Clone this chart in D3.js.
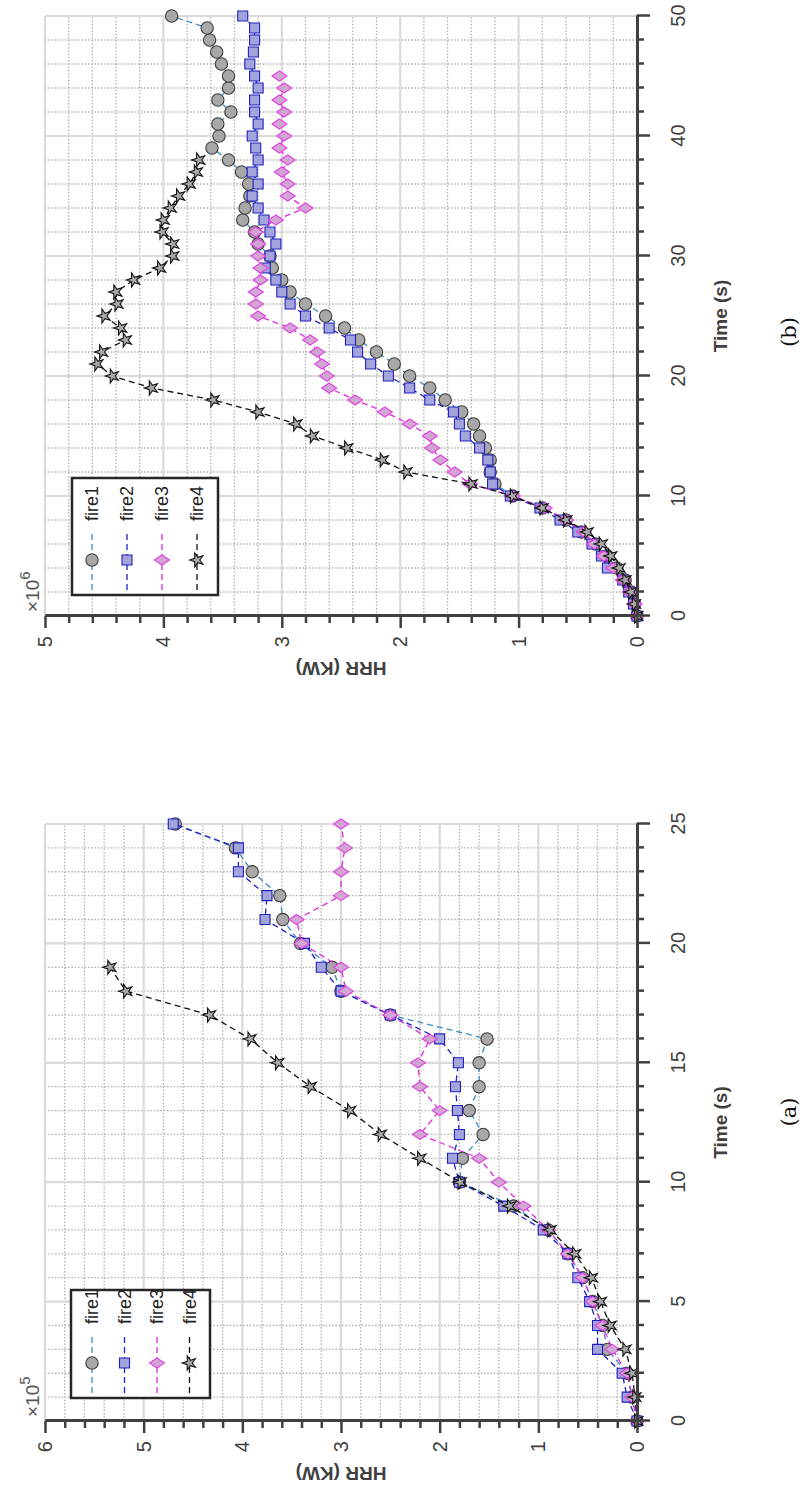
<!DOCTYPE html>
<html><head><meta charset="utf-8">
<script src="https://cdn.jsdelivr.net/npm/d3@7"></script>
<style>body{margin:0;background:#fff} svg{display:block}</style>
</head><body>
<svg id="chart" width="806" height="1486"></svg>
<script>
// ---------- data: panel (b) ----------
const timeB = [0,1,2,3,4,5,6,7,8,9,10,11,12,13,14,15,16,17,18,19,20,21,22,23,24,25,26,27,28,29,30,31,32,33,34,35,36,37,38,39,40,41,42,43,44,45,46,47,48,49,50];
const fire1B = [0,0.02,0.05,0.1,0.17,0.25,0.35,0.47,0.6,0.8,1.05,1.2,1.24,1.24,1.28,1.33,1.38,1.48,1.62,1.75,1.92,2.05,2.2,2.35,2.47,2.63,2.8,2.93,3.0,3.08,3.1,3.2,3.23,3.33,3.31,3.27,3.28,3.34,3.45,3.59,3.53,3.54,3.43,3.54,3.45,3.45,3.51,3.55,3.61,3.63,3.93];
const fire2B = [0,0.03,0.07,0.12,0.25,0.3,0.38,0.5,0.65,0.82,1.07,1.22,1.24,1.26,1.33,1.45,1.5,1.55,1.75,1.92,2.1,2.25,2.36,2.42,2.6,2.8,2.93,3.0,3.05,3.14,3.1,3.05,3.1,3.15,3.2,3.25,3.2,3.25,3.2,3.22,3.25,3.2,3.23,3.23,3.2,3.23,3.27,3.24,3.23,3.23,3.33];
const fire3B = [0,0.02,0.06,0.12,0.2,0.28,0.36,0.45,0.6,0.78,1.05,1.41,1.54,1.66,1.73,1.75,1.92,2.13,2.38,2.6,2.62,2.66,2.7,2.76,2.93,3.2,3.22,3.22,3.18,3.18,3.2,3.2,3.22,3.05,2.8,2.95,2.95,3.0,2.95,3.02,2.98,3.02,2.98,3.02,2.98,3.02];
const fire4B = [0,0.02,0.05,0.1,0.15,0.22,0.3,0.42,0.6,0.8,1.05,1.4,1.95,2.15,2.45,2.74,2.88,3.2,3.58,4.1,4.43,4.56,4.52,4.32,4.36,4.5,4.39,4.4,4.25,4.03,3.92,3.92,4.01,4.0,3.94,3.87,3.78,3.72,3.7];
const timeTicksB = [0,10,20,30,40,50];
const hrrTicksB = [0,1,2,3,4,5];

// ---------- data: panel (a) ----------
const timeA = [0,1,2,3,4,5,6,7,8,9,10,11,12,13,14,15,16,17,18,19,20,21,22,23,24,25];
const fire1A = [0,0.05,0.1,0.3,0.35,0.45,0.55,0.7,0.9,1.25,1.8,1.77,1.56,1.7,1.6,1.6,1.52,2.5,3.0,3.09,3.41,3.59,3.62,3.9,4.07,4.68];
const fire2A = [0,0.1,0.15,0.4,0.4,0.48,0.6,0.7,0.95,1.35,1.8,1.87,1.8,1.82,1.84,1.81,2.0,2.5,3.0,3.2,3.37,3.77,3.75,4.04,4.04,4.7];
const fire3A = [0,0.05,0.1,0.25,0.35,0.45,0.55,0.7,0.9,1.15,1.4,1.6,2.2,2.0,2.2,2.22,2.1,2.5,2.95,3.0,3.4,3.45,3.0,3.0,2.96,3.0];
const fire4A = [0,0.02,0.05,0.12,0.27,0.37,0.46,0.63,0.88,1.29,1.79,2.2,2.6,2.91,3.31,3.64,3.92,4.33,5.18,5.34];
const timeTicksA = [0,5,10,15,20,25];
const hrrTicksA = [0,1,2,3,4,5,6];

const seriesNames = ["fire1","fire2","fire3","fire4"];
const seriesStyle = [
  {line:"#3a8cc4", fill:"#a8a8a8", stroke:"#3c3c3c", shape:"circle"},
  {line:"#1f1fc8", fill:"#a4a4dc", stroke:"#2020c0", shape:"square"},
  {line:"#e028e0", fill:"#d2a6d2", stroke:"#e040e0", shape:"diamond"},
  {line:"#111111", fill:"#a8a8a8", stroke:"#111111", shape:"star"}
];

const svg = d3.select("#chart");
const FONT = "'Liberation Sans', Arial, sans-serif";
const AX = "#404040";

function markerPath(shape){
  if(shape==="circle") return d3.symbol(d3.symbolCircle, 120)();
  if(shape==="square") return d3.symbol(d3.symbolSquare, 100)();
  if(shape==="star") return d3.symbol(d3.symbolStar, 60)();
  return "M0,-7.5L5,0L0,7.5L-5,0Z";
}

function drawPanel(p){
  const g = svg.append("g")
    .attr("transform", `translate(${p.x0},${p.y0}) rotate(-90) translate(0,${-p.Hp})`);
  const x = d3.scaleLinear().domain([0,p.tMax]).range([0,p.Wp]);
  const y = d3.scaleLinear().domain([0,p.hMax]).range([p.Hp,0]);
  const eps = 1e-6;
  const tMinor = d3.range(0,p.tMax+eps,p.tStep).filter(v=>!p.timeTicks.some(m=>Math.abs(m-v)<eps));
  const hMinor = d3.range(0,p.hMax+eps,0.2).filter(v=>!p.hrrTicks.some(m=>Math.abs(m-v)<eps));
  // minor grid
  g.append("g").selectAll("line").data(tMinor).join("line")
    .attr("x1",d=>x(d)).attr("x2",d=>x(d)).attr("y1",0).attr("y2",p.Hp)
    .attr("stroke","#b0b0b0").attr("stroke-width",1.3).attr("stroke-dasharray","1.5,1.8");
  g.append("g").selectAll("line").data(hMinor).join("line")
    .attr("y1",d=>y(d)).attr("y2",d=>y(d)).attr("x1",0).attr("x2",p.Wp)
    .attr("stroke","#b0b0b0").attr("stroke-width",1.3).attr("stroke-dasharray","1.5,1.8");
  // major grid
  g.append("g").selectAll("line").data(p.timeTicks).join("line")
    .attr("x1",d=>x(d)).attr("x2",d=>x(d)).attr("y1",0).attr("y2",p.Hp)
    .attr("stroke","#dadada").attr("stroke-width",2.2);
  g.append("g").selectAll("line").data(p.hrrTicks).join("line")
    .attr("y1",d=>y(d)).attr("y2",d=>y(d)).attr("x1",0).attr("x2",p.Wp)
    .attr("stroke","#dadada").attr("stroke-width",2.2);

  // series
  p.series.forEach((vals,i)=>{
    const st = seriesStyle[i];
    const pts = vals.map((v,k)=>({t:p.time[k], v:v}));
    g.append("path").datum(pts)
      .attr("fill","none").attr("stroke",st.line).attr("stroke-width",1.3)
      .attr("stroke-dasharray","6,4")
      .attr("d", d3.line().x(d=>x(d.t)).y(d=>y(d.v)));
    g.append("g").selectAll("path").data(pts).join("path")
      .attr("transform",d=>`translate(${x(d.t)},${y(d.v)})`)
      .attr("d", markerPath(st.shape))
      .attr("fill",st.fill).attr("stroke",st.stroke).attr("stroke-width",1.1);
  });

  // axes
  g.append("g").attr("transform",`translate(0,${p.Hp})`)
    .call(d3.axisBottom(x).tickValues(p.timeTicks).tickSize(13).tickSizeOuter(0).tickPadding(21).tickFormat(d3.format("d")));
  g.append("g").attr("transform",`translate(0,${p.Hp})`)
    .call(d3.axisBottom(x).tickValues(tMinor).tickSize(7).tickSizeOuter(0).tickFormat(""));
  g.append("g")
    .call(d3.axisLeft(y).tickValues(p.hrrTicks).tickSize(12).tickSizeOuter(0).tickPadding(8).tickFormat(d3.format("d")));
  g.append("g")
    .call(d3.axisLeft(y).tickValues(hMinor).tickSize(7).tickSizeOuter(0).tickFormat(""));
  g.selectAll(".domain").attr("stroke",AX).attr("stroke-width",3);
  g.selectAll(".tick line").attr("stroke",AX).attr("stroke-width",2.5);
  g.selectAll(".tick text").attr("fill",AX).attr("font-family",FONT).attr("font-size",20);

  // axis labels
  g.append("text").attr("x",p.Wp/2).attr("y",p.Hp+90)
    .attr("text-anchor","middle").attr("font-family",FONT).attr("font-size",19).attr("font-weight","bold")
    .attr("fill",AX).text("Time (s)");
  g.append("text").attr("transform",`translate(-51,${p.Hp/2}) rotate(-90)`)
    .attr("text-anchor","middle").attr("dominant-baseline","middle")
    .attr("font-family",FONT).attr("font-size",19).attr("font-weight","bold")
    .attr("fill",AX).text("HRR (KW)");
  const ex = g.append("text").attr("x",4).attr("y",-6)
    .attr("font-family",FONT).attr("font-size",19).attr("fill","#555");
  ex.append("tspan").text("×10");
  ex.append("tspan").attr("dy",-9).attr("font-size",15).text(p.exp);

  // legend
  const L = p.legend;
  const lg = g.append("g");
  lg.append("rect").attr("x",L.x).attr("y",L.y).attr("width",L.w).attr("height",L.h)
    .attr("fill","#fff").attr("stroke","#262626").attr("stroke-width",2.5);
  seriesNames.forEach((name,i)=>{
    const st = seriesStyle[i];
    const cy = L.y + L.first + i*L.step;
    lg.append("line").attr("x1",L.x+5).attr("x2",L.x+65).attr("y1",cy).attr("y2",cy)
      .attr("stroke",st.line).attr("stroke-width",1.3).attr("stroke-dasharray","6,4");
    lg.append("path").attr("transform",`translate(${L.x+35},${cy})`).attr("d",markerPath(st.shape))
      .attr("fill",st.fill).attr("stroke",st.stroke).attr("stroke-width",1.1);
    lg.append("text").attr("x",L.x+74).attr("y",cy).attr("dy","0.35em")
      .attr("font-family",FONT).attr("font-size",18).attr("fill","#222").text(name);
  });

  // caption
  svg.append("text").attr("transform",`translate(${p.capX},${p.capY}) rotate(-90)`)
    .attr("text-anchor","middle").attr("dominant-baseline","middle")
    .attr("font-family","'DejaVu Serif','Liberation Serif',serif").attr("font-size",21)
    .attr("fill","#111").text(p.caption);
}

drawPanel({x0:637, y0:616, Wp:600, Hp:592, tMax:50, hMax:5, tStep:2,
  timeTicks:timeTicksB, hrrTicks:hrrTicksB, exp:"6", caption:"(b)", capX:790, capY:332,
  time:timeB, series:[fire1B,fire2B,fire3B,fire4B],
  legend:{x:21,y:27,w:117,h:146,first:20,step:35}});

drawPanel({x0:637, y0:1421, Wp:597, Hp:592, tMax:25, hMax:6, tStep:1,
  timeTicks:timeTicksA, hrrTicks:hrrTicksA, exp:"5", caption:"(a)", capX:790, capY:1112,
  time:timeA, series:[fire1A,fire2A,fire3A,fire4A],
  legend:{x:23,y:26,w:108,h:139,first:21,step:32.5}});
</script>
</body></html>
